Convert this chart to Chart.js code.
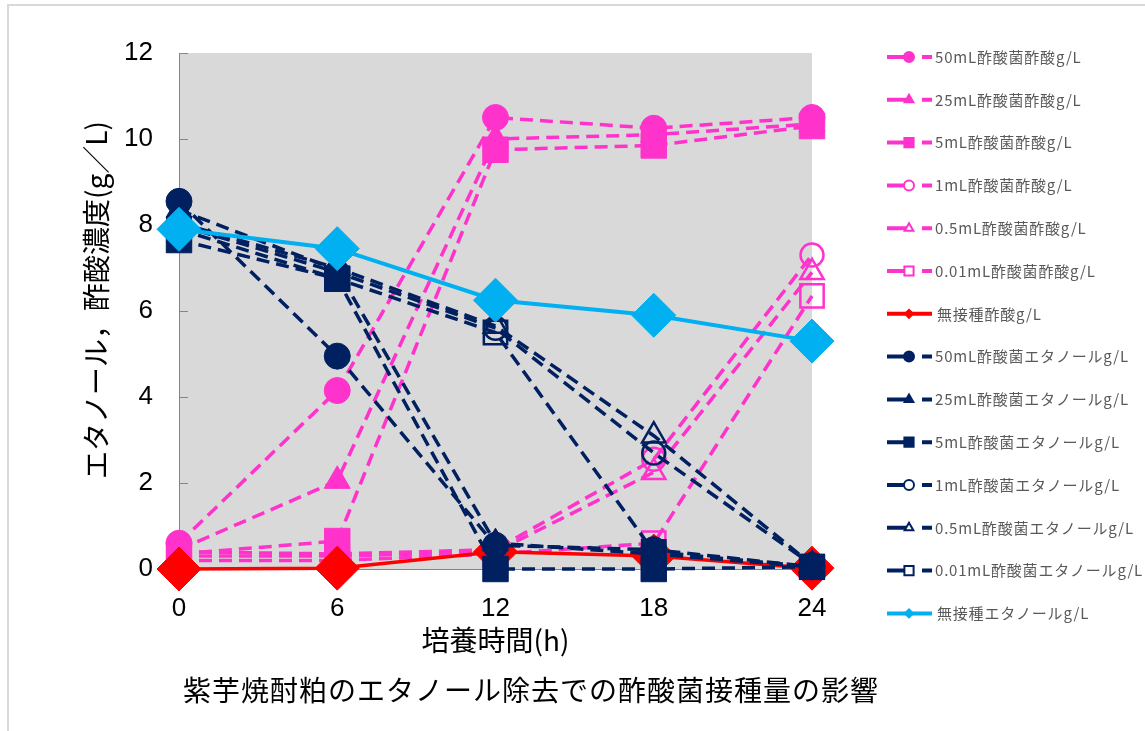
<!DOCTYPE html>
<html>
<head>
<meta charset="utf-8">
<title>紫芋焼酎粕のエタノール除去での酢酸菌接種量の影響</title>
<script src="https://cdn.jsdelivr.net/npm/chart.js@4.4.1/dist/chart.umd.min.js"></script>
<style>
  body { margin: 0; background: #fff; }
  canvas { display: block; }
</style>
</head>
<body>
<canvas id="chart" width="1145" height="731"></canvas>
<script>
// sampling times (h)
var hours = [0, 6, 12, 18, 24];
var xTicks = [0, 6, 12, 18, 24];
var yTicks = [0, 2, 4, 6, 8, 10, 12];

// acetic acid, g/L
var acid50 = [0.6, 4.15, 10.5, 10.25, 10.5];
var acid25 = [0.45, 2.05, 10.0, 10.1, 10.35];
var acid5 = [0.35, 0.65, 9.75, 9.85, 10.3];
var acid1 = [0.4, 0.35, 0.45, 2.55, 7.3];
var acid05 = [0.3, 0.3, 0.4, 2.25, 6.9];
var acid001 = [0.2, 0.2, 0.35, 0.6, 6.35];
var acidNone = [0, 0.02, 0.4, 0.3, 0.02];

// ethanol, g/L
var eth50 = [8.55, 4.95, 0.55, 0.45, 0.05];
var eth25 = [8.35, 6.95, 0.6, 0.35, 0.05];
var eth5 = [7.65, 6.75, 0.0, 0.0, 0.05];
var eth1 = [8.0, 6.9, 5.6, 2.7, 0.1];
var eth05 = [8.05, 7.0, 5.65, 3.1, 0.1];
var eth001 = [7.9, 6.75, 5.5, 0.4, 0.05];
var ethNone = [7.9, 7.45, 6.25, 5.9, 5.3];

var PINK = '#ff33cc';
var NAVY = '#002060';
var RED = '#ff0000';
var SKY = '#00b0f0';
var JP = '"Noto Sans CJK JP", "Noto Sans", sans-serif';
var NUM = '"Liberation Sans", Arial, sans-serif';

var sizes = { circle: 13, triangle: 15, rect: 18, rectRot: 22 };

function series(label, vals, color, shape, open, dashed, width) {
  return {
    label: label,
    data: vals.map(function (v, i) { return { x: hours[i], y: v }; }),
    borderColor: color,
    borderWidth: width,
    borderDash: dashed ? [13, 7] : [],
    pointStyle: shape,
    pointRadius: sizes[shape] - (open ? 1.5 : 0),
    pointBackgroundColor: open ? 'rgba(0,0,0,0)' : color,
    pointBorderColor: color,
    pointBorderWidth: open ? 2.5 : 1,
    open: open,
    dashed: dashed,
    tension: 0,
    clip: false
  };
}

var datasets = [
  series('50mL酢酸菌酢酸g/L', acid50, PINK, 'circle', false, true, 3.5),
  series('25mL酢酸菌酢酸g/L', acid25, PINK, 'triangle', false, true, 3.5),
  series('5mL酢酸菌酢酸g/L', acid5, PINK, 'rect', false, true, 3.5),
  series('1mL酢酸菌酢酸g/L', acid1, PINK, 'circle', true, true, 3.5),
  series('0.5mL酢酸菌酢酸g/L', acid05, PINK, 'triangle', true, true, 3.5),
  series('0.01mL酢酸菌酢酸g/L', acid001, PINK, 'rect', true, true, 3.5),
  series('無接種酢酸g/L', acidNone, RED, 'rectRot', false, false, 3.5),
  series('50mL酢酸菌エタノールg/L', eth50, NAVY, 'circle', false, true, 3.5),
  series('25mL酢酸菌エタノールg/L', eth25, NAVY, 'triangle', false, true, 3.5),
  series('5mL酢酸菌エタノールg/L', eth5, NAVY, 'rect', false, true, 3.5),
  series('1mL酢酸菌エタノールg/L', eth1, NAVY, 'circle', true, true, 3.5),
  series('0.5mL酢酸菌エタノールg/L', eth05, NAVY, 'triangle', true, true, 3.5),
  series('0.01mL酢酸菌エタノールg/L', eth001, NAVY, 'rect', true, true, 3.5),
  series('無接種エタノールg/L', ethNone, SKY, 'rectRot', false, false, 4)
];
// later series sit on top
datasets.forEach(function (d, i) { d.order = datasets.length - i; });

// grey plot area, outer frame and inner tick marks on the y axis
var plotDecor = {
  id: 'plotDecor',
  beforeDraw: function (chart) {
    var ctx = chart.ctx, a = chart.chartArea;
    ctx.save();
    ctx.fillStyle = '#d9d9d9';
    ctx.fillRect(a.left, a.top, a.right - a.left, a.bottom - a.top);
    ctx.strokeStyle = '#d9d9d9';
    ctx.lineWidth = 2;
    ctx.beginPath();
    ctx.moveTo(8, 731);
    ctx.lineTo(8, 5);
    ctx.lineTo(1145, 5);
    ctx.stroke();
    ctx.restore();
  },
  beforeDatasetsDraw: function (chart) {
    var ctx = chart.ctx, y = chart.scales.y;
    ctx.save();
    ctx.strokeStyle = '#868686';
    ctx.lineWidth = 1;
    y.ticks.forEach(function (t) {
      var py = Math.round(y.getPixelForValue(t.value)) + 0.5;
      ctx.beginPath();
      ctx.moveTo(y.right, py);
      ctx.lineTo(y.right + 9, py);
      ctx.stroke();
    });
    ctx.restore();
  }
};

// axis titles, caption and the legend column on the right
var textAndLegend = {
  id: 'textAndLegend',
  afterDraw: function (chart) {
    var ctx = chart.ctx, a = chart.chartArea;
    ctx.save();
    ctx.fillStyle = '#000';
    ctx.textAlign = 'center';
    ctx.textBaseline = 'middle';
    ctx.font = '28px ' + JP;
    ctx.fillText('培養時間(h)', (a.left + a.right) / 2, 640);
    ctx.letterSpacing = '1px';
    ctx.fillText('紫芋焼酎粕のエタノール除去での酢酸菌接種量の影響', 531, 690);
    ctx.letterSpacing = '0px';
    ctx.save();
    ctx.translate(96, 300);
    ctx.rotate(-Math.PI / 2);
    ctx.fillText('エタノール，酢酸濃度(g／L)', 0, 0);
    ctx.restore();

    ctx.textAlign = 'left';
    ctx.font = '15px ' + JP;
    chart.data.datasets.forEach(function (d, i) {
      var y = 57 + i * 42.8;
      ctx.strokeStyle = d.borderColor;
      ctx.lineWidth = 4;
      ctx.setLineDash([]);
      ctx.beginPath();
      if (d.dashed) {
        ctx.moveTo(887, y); ctx.lineTo(906, y);
        ctx.moveTo(922, y); ctx.lineTo(932, y);
      } else {
        ctx.moveTo(887, y); ctx.lineTo(932, y);
      }
      ctx.stroke();
      ctx.fillStyle = d.open ? '#fff' : d.borderColor;
      ctx.lineWidth = 2;
      var r = d.pointStyle === 'rect' ? 6.5 : d.pointStyle === 'rectRot' ? 4 : 5;
      Chart.helpers.drawPoint(ctx, { pointStyle: d.pointStyle, radius: r, borderWidth: 2 }, 909, y);
      ctx.fillStyle = '#595959';
      ctx.letterSpacing = '0.8px';
      ctx.fillText(d.label, d.dashed ? 935 : 937, y);
      ctx.letterSpacing = '0px';
    });
    ctx.restore();
  }
};

new Chart(document.getElementById('chart'), {
  type: 'line',
  data: { datasets: datasets },
  options: {
    responsive: false,
    animation: false,
    layout: { padding: { left: 0, top: 53, right: 333, bottom: 0 } },
    plugins: { legend: { display: false }, tooltip: { enabled: false } },
    scales: {
      x: {
        type: 'linear',
        min: 0,
        max: 24,
        afterBuildTicks: function (s) { s.ticks = xTicks.map(function (v) { return { value: v }; }); },
        afterFit: function (s) { s.height = 162; },
        grid: { drawOnChartArea: false, drawTicks: false },
        border: { color: '#868686', width: 1 },
        ticks: { padding: 24, color: '#000', maxRotation: 0, font: { family: NUM, size: 26 } }
      },
      y: {
        min: 0,
        max: 12,
        afterBuildTicks: function (s) { s.ticks = yTicks.map(function (v) { return { value: v }; }); },
        afterFit: function (s) { s.width = 179; },
        grid: { drawOnChartArea: false, drawTicks: false },
        border: { color: '#868686', width: 1 },
        ticks: { padding: 26, color: '#000', font: { family: NUM, size: 26 } }
      }
    }
  },
  plugins: [plotDecor, textAndLegend]
});
</script>
</body>
</html>
